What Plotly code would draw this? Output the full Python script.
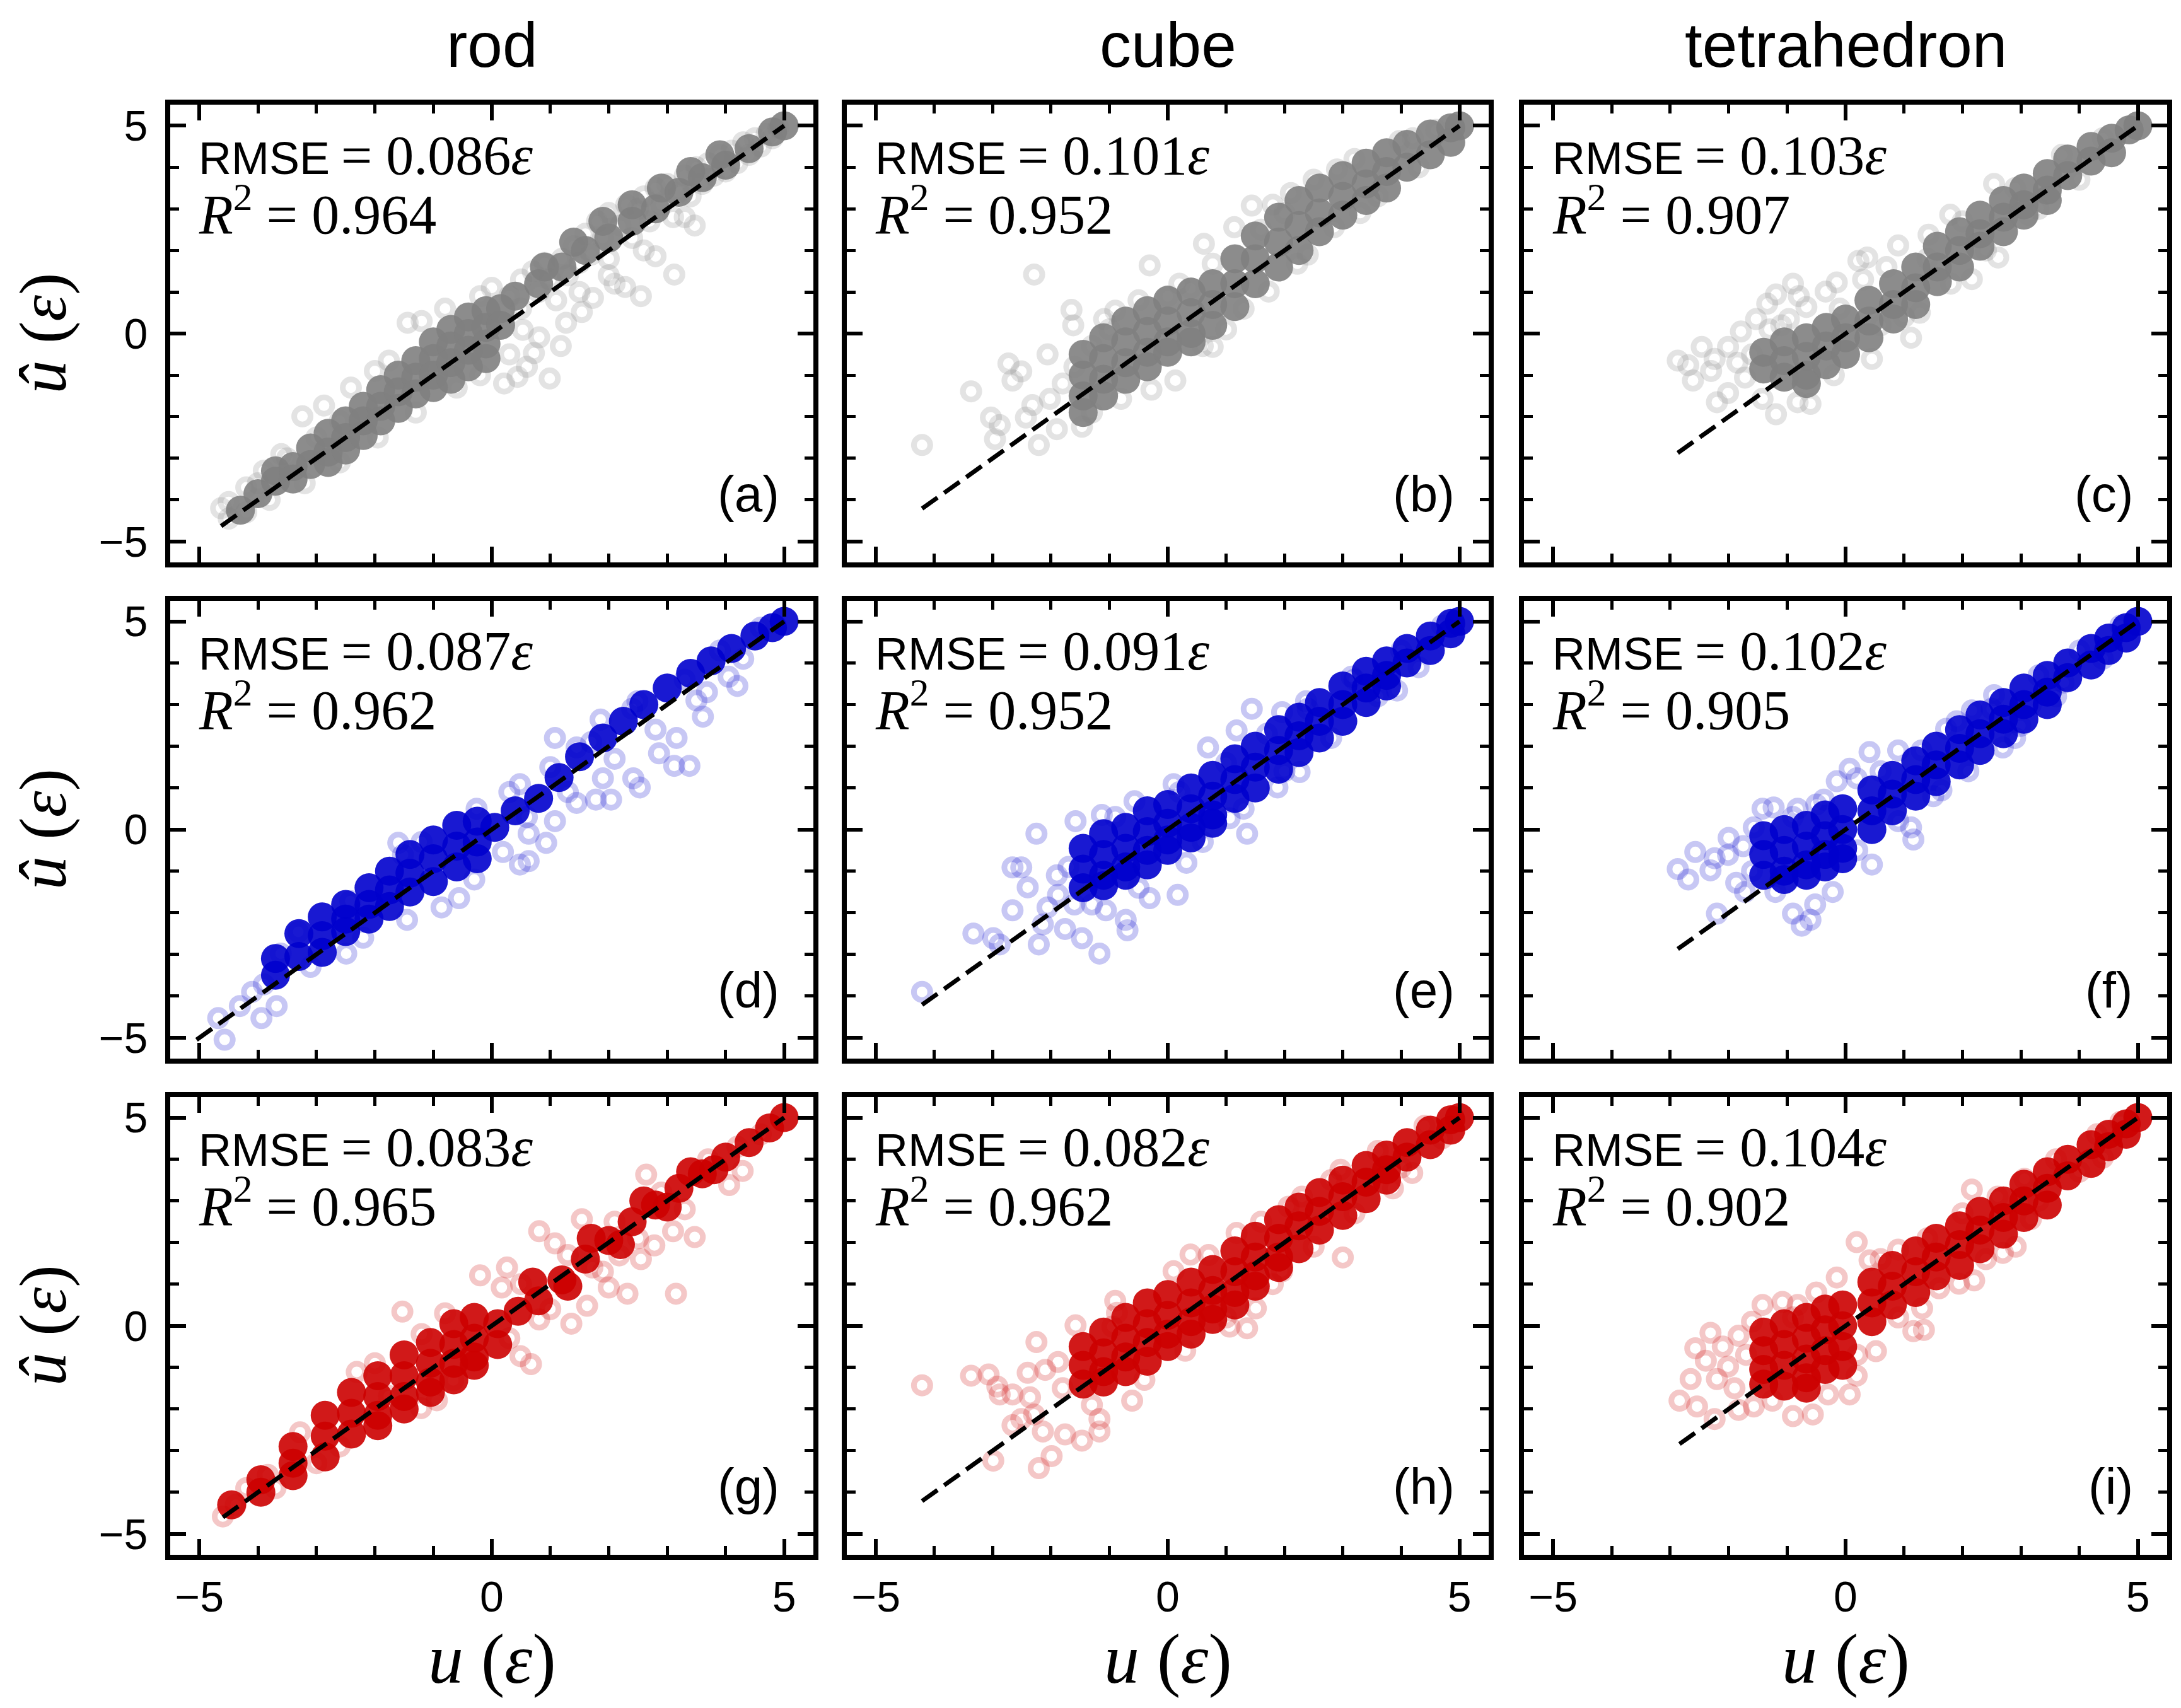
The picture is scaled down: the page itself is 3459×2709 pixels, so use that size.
import plotly.graph_objects as go

# column / row labels and per-panel statistics
shapes = ["rod", "cube", "tetrahedron"]
row_colors = ["#808080", "#0000CD", "#CC0000"]
rmse = ["0.086", "0.101", "0.103", "0.087", "0.091", "0.102", "0.083", "0.082", "0.104"]
r2 = ["0.964", "0.952", "0.907", "0.962", "0.952", "0.905", "0.965", "0.962", "0.902"]
tags = ["(a)", "(b)", "(c)", "(d)", "(e)", "(f)", "(g)", "(h)", "(i)"]

# points: [u, u_hat]; "dense" = solid core of the cloud, "sparse" = single circles
panel_a_dense = [
    [-4.3, -4.25], [-4.0, -3.85], [-3.7, -3.55], [-3.7, -3.3], [-3.4, -3.2], [-3.4, -3.5], [-3.1, -2.75], [-3.1, -3.15],
    [-2.8, -2.4], [-2.8, -2.85], [-2.8, -3.1], [-2.5, -2.1], [-2.5, -2.5], [-2.5, -2.8], [-2.2, -1.75], [-2.2, -2.1],
    [-2.2, -2.45], [-1.9, -1.35], [-1.9, -1.75], [-1.9, -2.1], [-1.6, -1.0], [-1.6, -1.4], [-1.6, -1.8], [-1.3, -0.65],
    [-1.3, -1.05], [-1.3, -1.45], [-1.0, -0.2], [-1.0, -0.6], [-1.0, -1.0], [-1.0, -1.3], [-0.7, 0.1], [-0.7, -0.3],
    [-0.7, -0.7], [-0.7, -1.1], [-0.4, 0.4], [-0.4, 0.0], [-0.4, -0.4], [-0.4, -0.8], [-0.1, 0.55], [-0.1, 0.15],
    [-0.1, -0.25], [-0.1, -0.6], [0.15, 0.6], [0.15, 0.2], [0.4, 0.9], [0.8, 1.2], [1.2, 1.6], [1.6, 2.0], [2.0, 2.3],
    [2.4, 2.7], [2.8, 3.0], [3.2, 3.4], [3.6, 3.75], [4.0, 4.05], [4.4, 4.45], [4.8, 4.85], [5.0, 5.0],
    [0.9, 1.6], [1.4, 2.2], [1.9, 2.7], [2.4, 3.1], [2.9, 3.5], [3.4, 3.9], [3.9, 4.3],
]
panel_a_sparse = [
    [-4.63, -4.2], [-4.5, -4.45], [-4.5, -4.05], [-4.2, -3.7], [-4.2, -4.3], [-3.9, -3.3], [-3.8, -4.0], [-3.6, -2.9],
    [-3.24, -1.99], [-3.2, -3.6], [-2.87, -1.73], [-2.6, -3.1], [-2.41, -1.3], [-2.0, -0.9], [-1.95, -2.5],
    [-1.76, -0.65], [-1.44, 0.26], [-1.3, -1.9], [-1.2, 0.3], [-0.8, 0.6], [-0.6, -1.3], [-0.2, 0.9], [-0.2, -1.0],
    [0.0, 1.1], [0.21, -1.2], [0.3, -0.5], [0.44, -1.04], [0.53, 0.09], [0.6, -0.8], [0.72, -0.47], [0.81, -0.09],
    [0.99, -1.08], [1.18, -0.3], [1.27, 0.26], [1.5, 1.0], [1.54, 0.52], [1.73, 0.86], [2.0, 1.4], [2.1, 1.2],
    [2.28, 1.12], [2.55, 0.9], [2.6, 2.0], [2.8, 1.86], [3.12, 1.42], [3.3, 2.8], [3.47, 2.6],
    [0.3, 0.9], [0.5, 1.3], [0.5, 0.6], [0.7, 1.5], [0.8, 1.0], [0.9, 1.7], [1.0, 1.3], [1.1, 0.8], [1.2, 1.8],
    [1.3, 1.4], [1.4, 2.1], [1.5, 1.7], [1.6, 2.4], [1.7, 1.9], [1.8, 2.7], [1.9, 2.3], [2.0, 2.9], [2.0, 1.8],
    [2.2, 2.6], [2.3, 3.1], [2.4, 2.3], [2.5, 3.0], [2.6, 3.3], [2.7, 2.7], [2.8, 3.5], [2.9, 3.1], [3.0, 3.6],
    [3.1, 2.8], [3.2, 3.4], [3.3, 3.8], [3.4, 3.3], [3.5, 4.0], [3.6, 3.6], [3.7, 4.1], [3.8, 3.8], [3.9, 4.3],
    [4.0, 3.9], [4.1, 4.4], [4.2, 4.1], [4.3, 4.6], [4.4, 4.3], [4.5, 4.7], [4.6, 4.5], [4.7, 4.8], [4.8, 4.7],
    [4.9, 4.95], [-4.0, -3.6], [-3.5, -3.0], [-3.0, -2.5], [-2.6, -2.1],
]

panel_b_dense = [
    [-1.45, -0.5], [-1.45, -1.0], [-1.45, -1.5], [-1.45, -1.9], [-1.1, -0.1], [-1.1, -0.6], [-1.1, -1.1], [-1.1, -1.5],
    [-0.72, 0.3], [-0.72, -0.2], [-0.72, -0.7], [-0.72, -1.1], [-0.35, 0.55], [-0.35, 0.05], [-0.35, -0.45],
    [-0.35, -0.8], [0.0, 0.8], [0.0, 0.3], [0.0, -0.2], [0.0, -0.45], [0.4, 1.0], [0.4, 0.5], [0.4, 0.0], [0.4, -0.2],
    [0.77, 1.2], [0.77, 0.7], [0.77, 0.2], [1.15, 1.8], [1.15, 1.2], [1.15, 0.65], [1.5, 2.35], [1.5, 1.8], [1.5, 1.2],
    [1.9, 2.8], [1.9, 2.2], [1.9, 1.6], [2.25, 3.2], [2.25, 2.6], [2.25, 2.0], [2.6, 3.5], [2.6, 2.9], [2.6, 2.45],
    [3.0, 3.8], [3.0, 3.3], [3.0, 2.85], [3.4, 4.1], [3.4, 3.6], [3.4, 3.2], [3.75, 4.35], [3.75, 3.9], [3.75, 3.5],
    [4.1, 4.55], [4.1, 4.0], [4.5, 4.8], [4.5, 4.3], [4.85, 4.95], [4.85, 4.6], [5.0, 5.0],
]
panel_b_sparse = [
    [-4.21, -2.68], [-3.37, -1.39], [-3.03, -2.02], [-2.96, -2.54], [-2.88, -2.2], [-2.73, -0.72], [-2.66, -1.13],
    [-2.51, -0.91], [-2.43, -2.02], [-2.32, -1.72], [-2.29, 1.42], [-2.21, -2.68], [-2.06, -0.5], [-2.02, -1.57],
    [-1.9, -2.3], [-1.8, -1.2], [-1.65, 0.57], [-1.62, 0.2], [-1.6, -0.8], [-1.47, -2.24], [-1.3, -1.9], [-1.09, 0.35],
    [-0.9, 0.55], [-0.8, -1.57], [-0.5, 0.8], [-0.31, 1.64], [-0.28, -1.35], [0.13, -1.13], [0.2, 1.2], [0.39, 1.09],
    [0.62, 2.16], [0.77, 1.68], [0.77, -0.32], [1.0, 0.1], [1.14, 2.56], [1.3, 0.6], [1.44, 3.08], [1.73, 1.01],
    [1.8, 3.1], [2.11, 3.38], [2.22, 1.68], [2.5, 3.7], [2.85, 2.56], [3.2, 4.2], [3.3, 2.9], [3.97, 4.63], [4.2, 4.7],
    [4.6, 4.9], [-1.3, -0.3], [-1.0, 0.1], [0.0, 0.9], [0.6, -0.3], [1.6, 2.5], [2.0, 2.9], [2.4, 1.9], [2.9, 3.95],
    [3.6, 3.3], [4.3, 4.0],
]

panel_c_dense = [
    [-1.4, -0.45], [-1.4, -0.85], [-1.05, -0.2], [-1.05, -0.65], [-1.05, -1.05], [-0.67, -0.1], [-0.67, -0.55],
    [-0.67, -1.0], [-0.67, -1.2], [-0.33, 0.15], [-0.33, -0.3], [-0.33, -0.75], [0.0, 0.35], [0.0, -0.1], [0.0, -0.5],
    [0.4, 0.8], [0.4, 0.3], [0.4, -0.1], [0.82, 1.2], [0.82, 0.7], [0.82, 0.35], [1.2, 1.6], [1.2, 1.1], [1.2, 0.7],
    [1.57, 2.1], [1.57, 1.6], [1.57, 1.25], [1.95, 2.45], [1.95, 2.0], [1.95, 1.6], [2.3, 2.85], [2.3, 2.4],
    [2.3, 2.1], [2.7, 3.2], [2.7, 2.8], [2.7, 2.45], [3.05, 3.5], [3.05, 3.1], [3.05, 2.85], [3.45, 3.85],
    [3.45, 3.45], [3.45, 3.2], [3.8, 4.2], [3.8, 3.8], [4.2, 4.5], [4.2, 4.15], [4.55, 4.7], [4.55, 4.35],
    [4.85, 4.9], [5.0, 5.0],
]
panel_c_sparse = [
    [-2.87, -0.65], [-2.69, -0.76], [-2.61, -1.13], [-2.46, -0.32], [-2.24, -0.61], [-2.2, -1.65], [-2.01, -0.32],
    [-2.01, -1.43], [-1.79, 0.05], [-1.72, -1.06], [-1.6, -0.5], [-1.53, 0.35], [-1.42, -1.57], [-1.34, 0.72],
    [-1.19, 0.94], [-1.19, -1.94], [-1.1, 0.2], [-0.97, 0.35], [-0.9, 1.2], [-0.82, -1.65], [-0.67, 0.64],
    [-0.6, -1.69], [-0.34, 1.01], [-0.15, 1.23], [-0.1, 0.6], [0.22, 1.75], [0.37, 1.83], [0.45, -0.61], [0.6, 0.2],
    [0.9, 2.12], [1.12, -0.1], [1.27, 0.5], [1.42, 2.38], [1.79, 2.86], [2.16, 1.31], [2.54, 3.6], [2.61, 1.83],
    [3.13, 2.86], [3.51, 3.38], [-2.3, -0.9], [-1.85, -0.7], [-1.3, 0.1], [-0.8, 0.9], [-0.2, -1.0], [0.3, 1.3],
    [0.7, 1.6], [1.0, 0.4], [1.4, 1.8], [1.8, 1.2], [2.0, 2.7], [2.4, 2.0], [2.9, 3.5], [3.3, 3.0], [3.7, 4.3],
    [4.0, 3.7], [4.4, 4.7],
]

panel_d_dense = [
    [-3.7, -3.1], [-3.7, -3.5], [-3.3, -2.5], [-3.3, -3.05], [-2.9, -2.1], [-2.9, -2.55], [-2.9, -2.95], [-2.5, -1.8],
    [-2.5, -2.15], [-2.5, -2.45], [-2.1, -1.4], [-2.1, -1.8], [-2.1, -2.15], [-1.75, -1.0], [-1.75, -1.45],
    [-1.75, -1.85], [-1.4, -0.6], [-1.4, -1.05], [-1.4, -1.5], [-1.0, -0.25], [-1.0, -0.7], [-1.0, -1.25],
    [-0.6, 0.1], [-0.6, -0.4], [-0.6, -0.9], [-0.25, 0.2], [-0.25, -0.3], [-0.25, -0.7], [0.05, 0.05], [0.4, 0.45],
    [0.8, 0.75], [1.15, 1.25], [1.5, 1.75], [1.9, 2.2], [2.25, 2.6], [2.6, 3.0], [3.0, 3.4], [3.4, 3.75],
    [3.75, 4.05], [4.1, 4.35], [4.5, 4.65], [4.8, 4.85], [5.0, 5.0],
]
panel_d_sparse = [
    [-4.68, -4.53], [-4.57, -5.05], [-4.31, -4.24], [-4.1, -3.9], [-3.94, -4.53], [-3.9, -3.72], [-3.68, -4.24],
    [-3.61, -2.98], [-3.31, -2.46], [-3.1, -3.3], [-2.49, -2.98], [-2.42, -1.72], [-2.2, -2.6], [-1.6, -0.32],
    [-1.52, -0.61], [-1.45, -2.17], [-1.2, -0.3], [-0.86, -1.87], [-0.56, -1.65], [-0.26, 0.5], [-0.3, -1.2],
    [0.19, -0.54], [0.48, -0.84], [0.48, 1.09], [0.63, -0.1], [0.63, -0.76], [0.93, -0.32], [1.08, 0.2], [1.08, 2.2],
    [1.45, 0.64], [1.45, 1.97], [1.78, 0.72], [1.86, 2.64], [1.9, 1.23], [2.04, 0.72], [2.42, 1.23], [2.49, 3.08],
    [2.53, 1.01], [2.86, 1.83], [3.12, 1.53], [3.16, 2.2], [3.38, 1.53], [3.61, 2.71], [3.68, 3.3], [4.05, 3.67],
    [4.2, 3.45], [0.3, 0.9], [0.6, 0.3], [1.0, 1.5], [1.3, 0.9], [1.7, 2.1], [2.1, 1.7], [2.4, 2.9], [2.8, 2.4],
    [3.3, 3.6], [3.5, 3.1], [3.9, 4.3], [4.3, 4.1], [4.6, 4.85],
]

panel_e_dense = [
    [-1.45, -0.45], [-1.45, -0.95], [-1.45, -1.4], [-1.1, -0.1], [-1.1, -0.6], [-1.1, -1.1], [-1.1, -1.35],
    [-0.72, 0.05], [-0.72, -0.45], [-0.72, -0.9], [-0.72, -1.1], [-0.35, 0.45], [-0.35, -0.05], [-0.35, -0.5],
    [-0.35, -0.85], [0.0, 0.6], [0.0, 0.15], [0.0, -0.25], [0.0, -0.5], [0.4, 1.0], [0.4, 0.5], [0.4, 0.05],
    [0.4, -0.2], [0.77, 1.3], [0.77, 0.8], [0.77, 0.35], [0.77, 0.15], [1.15, 1.7], [1.15, 1.2], [1.15, 0.75],
    [1.5, 2.0], [1.5, 1.5], [1.5, 1.0], [1.9, 2.4], [1.9, 1.9], [1.9, 1.45], [2.25, 2.7], [2.25, 2.25], [2.25, 1.85],
    [2.6, 3.05], [2.6, 2.6], [2.6, 2.2], [3.0, 3.45], [3.0, 3.0], [3.0, 2.6], [3.4, 3.8], [3.4, 3.4], [3.4, 3.05],
    [3.75, 4.05], [3.75, 3.7], [3.75, 3.45], [4.1, 4.35], [4.1, 4.0], [4.5, 4.65], [4.5, 4.3], [4.85, 4.95],
    [4.85, 4.7], [5.0, 5.0],
]
panel_e_sparse = [
    [-4.21, -3.9], [-3.33, -2.5], [-2.99, -2.61], [-2.88, -2.76], [-2.66, -1.94], [-2.66, -0.91], [-2.51, -0.91],
    [-2.4, -1.39], [-2.25, -0.1], [-2.21, -2.76], [-2.14, -2.28], [-2.06, -1.87], [-1.88, -1.57], [-1.76, -2.39],
    [-1.7, -0.9], [-1.58, 0.2], [-1.47, -2.61], [-1.3, -1.8], [-1.17, -2.98], [-1.13, 0.35], [-1.06, -1.94],
    [-0.72, -2.17], [-0.69, -2.42], [-0.57, 0.68], [-0.31, -1.65], [0.1, 1.09], [0.17, -1.57], [0.32, -0.8],
    [0.69, 1.97], [1.06, 0.27], [1.18, 2.38], [1.36, -0.1], [1.44, 2.9], [1.88, 1.01], [1.96, 2.82], [2.26, 1.38],
    [2.37, 3.08], [3.15, 3.67], [3.93, 3.34], [-1.9, -1.1], [-1.6, -1.8], [-0.9, 0.3], [-0.5, -1.4], [0.2, 0.9],
    [0.6, -0.3], [1.0, 1.6], [1.3, 0.5], [1.7, 2.3], [2.0, 1.4], [2.4, 2.9], [2.8, 2.2], [3.2, 3.6], [3.6, 3.2],
    [4.0, 4.3], [4.3, 3.9], [4.7, 4.9],
]

panel_f_dense = [
    [-1.4, -0.15], [-1.4, -0.6], [-1.4, -1.1], [-1.05, 0.0], [-1.05, -0.5], [-1.05, -1.0], [-1.05, -1.2],
    [-0.67, 0.1], [-0.67, -0.4], [-0.67, -0.85], [-0.67, -1.1], [-0.35, 0.35], [-0.35, -0.15], [-0.35, -0.6],
    [-0.35, -0.9], [-0.05, 0.5], [-0.05, 0.0], [-0.05, -0.45], [-0.05, -0.7], [0.45, 0.95], [0.45, 0.45], [0.45, 0.0],
    [0.8, 1.3], [0.8, 0.85], [0.8, 0.45], [1.2, 1.65], [1.2, 1.2], [1.2, 0.8], [1.55, 2.0], [1.55, 1.55], [1.55, 1.15],
    [1.95, 2.4], [1.95, 1.95], [1.95, 1.55], [2.3, 2.75], [2.3, 2.3], [2.3, 1.9], [2.7, 3.05], [2.7, 2.65], [2.7, 2.3],
    [3.05, 3.4], [3.05, 3.0], [3.05, 2.65], [3.45, 3.7], [3.45, 3.3], [3.45, 3.0], [3.8, 4.0], [3.8, 3.65],
    [4.2, 4.35], [4.2, 3.95], [4.5, 4.6], [4.5, 4.3], [4.8, 4.85], [4.8, 4.6], [5.0, 5.0],
]
panel_f_sparse = [
    [-2.87, -0.95], [-2.69, -1.2], [-2.57, -0.54], [-2.31, -0.98], [-2.24, -0.69], [-2.2, -2.02], [-2.01, -0.61],
    [-1.87, -1.28], [-1.72, -1.5], [-1.57, 0.05], [-1.42, 0.5], [-1.23, 0.53], [-0.9, -2.02], [-0.82, 0.5],
    [-0.75, -2.31], [-0.6, -2.17], [-0.52, -1.8], [-0.37, 0.72], [-0.22, -1.5], [-0.15, 1.16], [0.07, 1.46],
    [0.19, 1.23], [0.41, 1.86], [0.45, -0.84], [0.9, 1.9], [1.12, 0.05], [1.16, -0.24], [1.64, 0.94], [1.72, 2.42],
    [2.16, 2.86], [2.54, 3.23], [2.69, 1.97], [2.99, 2.49], [3.17, 3.0], [3.73, 3.53], [-2.0, -0.2], [-1.75, -0.4],
    [-1.6, -1.0], [-1.2, -1.5], [-0.9, 0.3], [-0.5, 0.6], [0.2, -0.5], [0.6, 1.4], [0.9, 0.2], [1.3, 1.9], [1.5, 0.8],
    [1.9, 2.6], [2.1, 1.4], [2.5, 2.9], [2.9, 2.2], [3.3, 3.7], [3.6, 3.2], [4.0, 4.3], [4.4, 4.1], [4.7, 4.9],
]

panel_g_dense = [
    [-4.45, -4.3], [-3.95, -3.7], [-3.95, -4.0], [-3.4, -2.9], [-3.4, -3.3], [-3.4, -3.6], [-2.85, -2.15],
    [-2.85, -2.65], [-2.85, -3.15], [-2.4, -1.6], [-2.4, -2.1], [-2.4, -2.6], [-1.95, -1.2], [-1.95, -1.7],
    [-1.95, -2.15], [-1.95, -2.4], [-1.5, -0.7], [-1.5, -1.2], [-1.5, -1.7], [-1.5, -2.0], [-1.05, -0.4],
    [-1.05, -0.9], [-1.05, -1.35], [-1.05, -1.6], [-0.65, 0.05], [-0.65, -0.45], [-0.65, -0.9], [-0.65, -1.3],
    [-0.3, 0.2], [-0.3, -0.3], [-0.3, -0.75], [-0.3, -0.95], [0.1, 0.05], [0.1, -0.45], [0.45, 0.35], [0.8, 0.6],
    [1.2, 1.1], [1.6, 1.6], [2.0, 2.05], [2.4, 2.5], [2.8, 2.9], [3.2, 3.3], [3.6, 3.65], [4.0, 4.05], [4.4, 4.4],
    [4.75, 4.75], [5.0, 5.0], [0.7, 1.05], [1.3, 0.95], [1.7, 2.1], [2.2, 1.95], [2.6, 3.0], [3.0, 2.85],
    [3.4, 3.7], [3.8, 3.75],
]
panel_g_sparse = [
    [-4.6, -4.58], [-4.38, -4.3], [-4.2, -3.9], [-3.83, -3.58], [-3.7, -3.9], [-3.28, -2.56], [-3.0, -3.3],
    [-2.6, -2.9], [-2.31, -1.11], [-1.76, -1.69], [-1.53, 0.34], [-1.21, -1.98], [-0.94, -1.79], [-0.66, -1.31],
    [-0.2, 1.21], [0.17, 0.92], [0.26, 1.4], [0.49, -0.73], [0.67, -0.92], [0.81, 2.27], [0.81, 0.15], [1.08, 1.98],
    [1.36, 0.05], [1.54, 2.56], [1.63, 0.48], [1.72, 1.4], [2.0, 0.92], [2.18, 1.69], [2.32, 0.77], [2.55, 1.6],
    [2.64, 3.63], [2.78, 1.93], [3.1, 2.27], [3.15, 0.77], [3.47, 2.13], [4.06, 3.38], [4.29, 3.72], [-2.0, -0.9],
    [-1.2, -0.2], [-0.8, 0.3], [0.3, -0.3], [0.5, 1.0], [1.0, 0.4], [1.3, 1.7], [1.9, 1.3], [2.1, 2.5], [2.5, 2.1],
    [2.9, 3.2], [3.3, 2.8], [3.7, 4.0], [4.2, 4.3], [4.6, 4.6],
]

panel_h_dense = [
    [-1.45, -0.5], [-1.45, -0.95], [-1.45, -1.4], [-1.1, -0.15], [-1.1, -0.65], [-1.1, -1.1], [-1.1, -1.35],
    [-0.72, 0.2], [-0.72, -0.3], [-0.72, -0.75], [-0.72, -1.1], [-0.35, 0.55], [-0.35, 0.05], [-0.35, -0.4],
    [-0.35, -0.85], [0.0, 0.75], [0.0, 0.25], [0.0, -0.2], [0.0, -0.5], [0.4, 1.05], [0.4, 0.55], [0.4, 0.1],
    [0.4, -0.2], [0.77, 1.35], [0.77, 0.85], [0.77, 0.4], [0.77, 0.15], [1.15, 1.8], [1.15, 1.3], [1.15, 0.8],
    [1.15, 0.5], [1.5, 2.15], [1.5, 1.65], [1.5, 1.2], [1.5, 0.95], [1.9, 2.55], [1.9, 2.1], [1.9, 1.65], [1.9, 1.4],
    [2.25, 2.85], [2.25, 2.4], [2.25, 1.85], [2.6, 3.2], [2.6, 2.75], [2.6, 2.3], [3.0, 3.5], [3.0, 3.1], [3.0, 2.65],
    [3.4, 3.85], [3.4, 3.45], [3.4, 3.05], [3.75, 4.1], [3.75, 3.75], [3.75, 3.5], [4.1, 4.4], [4.1, 4.05],
    [4.5, 4.7], [4.5, 4.35], [4.85, 4.95], [4.85, 4.7], [5.0, 5.0],
]
panel_h_sparse = [
    [-4.21, -1.43], [-3.37, -1.2], [-3.07, -1.17], [-2.99, -3.24], [-2.92, -1.46], [-2.88, -1.65], [-2.66, -1.65],
    [-2.66, -2.39], [-2.51, -2.24], [-2.4, -1.13], [-2.36, -1.72], [-2.29, -2.13], [-2.25, -0.39], [-2.21, -3.42],
    [-2.14, -2.54], [-2.1, -1.06], [-1.99, -3.13], [-1.88, -0.87], [-1.76, -2.61], [-1.58, 0.01], [-1.47, -2.76],
    [-1.17, -2.54], [-1.17, -2.24], [-0.95, -0.02], [-0.87, 0.31], [-0.61, -1.8], [0.1, 1.31], [0.39, 1.71],
    [1.06, -0.02], [1.18, 2.23], [1.36, -0.06], [1.51, 0.42], [1.96, 1.31], [2.07, 2.86], [2.96, 3.75], [3.0, 1.64],
    [3.86, 3.3], [4.19, 3.67], [-1.8, -1.5], [-1.3, -1.9], [-0.9, 0.6], [-0.4, -1.3], [0.3, -0.6], [0.7, 1.7],
    [1.0, 0.2], [1.6, 2.5], [1.8, 1.0], [2.3, 3.1], [2.5, 1.9], [2.8, 3.5], [3.2, 2.7], [3.6, 4.2], [4.0, 3.8],
    [4.4, 4.8], [4.7, 4.5],
]

panel_i_dense = [
    [-1.4, -0.15], [-1.4, -0.6], [-1.4, -1.05], [-1.4, -1.4], [-1.05, 0.05], [-1.05, -0.45], [-1.05, -0.95],
    [-1.05, -1.45], [-0.67, 0.2], [-0.67, -0.3], [-0.67, -0.8], [-0.67, -1.25], [-0.67, -1.5], [-0.35, 0.4],
    [-0.35, -0.1], [-0.35, -0.6], [-0.35, -1.05], [-0.05, 0.5], [-0.05, 0.0], [-0.05, -0.5], [-0.05, -0.95],
    [0.45, 1.05], [0.45, 0.55], [0.45, 0.1], [0.8, 1.45], [0.8, 0.95], [0.8, 0.5], [1.2, 1.8], [1.2, 1.3], [1.2, 0.8],
    [1.55, 2.1], [1.55, 1.65], [1.55, 1.2], [1.95, 2.4], [1.95, 1.95], [1.95, 1.45], [2.3, 2.75], [2.3, 2.3],
    [2.3, 1.85], [2.7, 3.0], [2.7, 2.6], [2.7, 2.2], [3.05, 3.4], [3.05, 3.0], [3.05, 2.6], [3.45, 3.7], [3.45, 3.3],
    [3.45, 2.9], [3.8, 4.0], [3.8, 3.6], [4.2, 4.35], [4.2, 3.9], [4.5, 4.6], [4.5, 4.3], [4.8, 4.85], [4.8, 4.6],
    [5.0, 5.0],
]
panel_i_sparse = [
    [-2.84, -1.8], [-2.65, -1.28], [-2.57, -0.54], [-2.54, -1.94], [-2.39, -0.84], [-2.31, -0.17], [-2.24, -2.24],
    [-2.2, -1.28], [-2.01, -0.98], [-1.83, -0.24], [-1.83, -2.02], [-1.7, -0.7], [-1.57, -1.94], [-1.42, 0.5],
    [-1.08, 0.57], [-0.9, -2.17], [-0.82, 0.5], [-0.56, -2.13], [-0.3, -1.65], [-0.15, 1.16], [0.07, -1.65],
    [0.19, 2.01], [0.19, -1.2], [0.41, 1.57], [0.52, -0.61], [0.9, 1.83], [1.16, -0.13], [1.31, 0.42], [1.34, -0.1],
    [1.94, 1.01], [2.16, 3.27], [2.2, 1.09], [2.69, 1.75], [2.91, 1.9], [3.06, 3.53], [3.17, 2.56], [4.4, 4.04],
    [-2.1, -0.5], [-1.9, -1.5], [-1.6, 0.1], [-1.25, -1.8], [-0.9, 0.2], [-0.5, 0.8], [0.2, -0.7], [0.6, 1.6],
    [0.9, 0.2], [1.4, 2.1], [1.6, 0.9], [2.0, 2.7], [2.4, 1.6], [2.6, 3.1], [3.3, 3.0], [3.6, 4.0], [4.0, 3.7],
    [4.3, 4.6], [4.7, 4.9],
]

dense = [panel_a_dense, panel_b_dense, panel_c_dense, panel_d_dense, panel_e_dense,
         panel_f_dense, panel_g_dense, panel_h_dense, panel_i_dense]
sparse = [panel_a_sparse, panel_b_sparse, panel_c_sparse, panel_d_sparse, panel_e_sparse,
          panel_f_sparse, panel_g_sparse, panel_h_sparse, panel_i_sparse]

# --- geometry (pixels of the 3459 x 2709 page) ---
W, H = 3459, 2709
col_px = [(262, 1282), (1335, 2353), (2409, 3429)]
row_px = [(154, 882), (943, 1672), (1733, 2462)]
SANS = "Liberation Sans, Arial, sans-serif"
SERIF = "Liberation Serif, Times New Roman, serif"

fig = go.Figure()
annotations = []
layout_axes = {}

for k in range(9):
    r, c = divmod(k, 3)
    sfx = "" if k == 0 else str(k + 1)
    color = row_colors[r]
    pts_s = sparse[k]
    pts_d = dense[k]

    fig.add_trace(go.Scatter(
        x=[p[0] for p in pts_s], y=[p[1] for p in pts_s], mode="markers",
        marker=dict(symbol="circle-open", size=26, color=color, opacity=0.22,
                    line=dict(width=9, color=color)),
        hoverinfo="skip", showlegend=False, xaxis="x" + sfx, yaxis="y" + sfx))
    fig.add_trace(go.Scatter(
        x=[p[0] for p in pts_d], y=[p[1] for p in pts_d], mode="markers",
        marker=dict(symbol="circle", size=46, color=color, opacity=0.9, line=dict(width=0)),
        hoverinfo="skip", showlegend=False, xaxis="x" + sfx, yaxis="y" + sfx))

    # y = x reference line spanning the data
    vals = [v for p in pts_s + pts_d for v in p]
    lo, hi = min(vals), max(vals)
    fig.add_trace(go.Scatter(
        x=[lo, hi], y=[lo, hi], mode="lines",
        line=dict(color="black", width=7, dash="30px,13px"),
        hoverinfo="skip", showlegend=False, xaxis="x" + sfx, yaxis="y" + sfx))

    common = dict(
        range=[-5.5, 5.5], showline=True, linewidth=8, linecolor="black", mirror="ticks",
        ticks="inside", ticklen=25, tickwidth=6, tickcolor="black", tick0=0, dtick=5,
        showgrid=False, zeroline=False, fixedrange=True,
        minor=dict(ticks="inside", dtick=1, ticklen=14, tickwidth=4.5, tickcolor="black", showgrid=False),
        tickfont=dict(family=SANS, size=68, color="black"),
    )
    x0, x1 = col_px[c]
    y0, y1 = row_px[r]
    layout_axes["xaxis" + sfx] = dict(common, domain=[x0 / W, x1 / W], anchor="y" + sfx,
                                      showticklabels=(r == 2), ticklabelstandoff=0)
    layout_axes["yaxis" + sfx] = dict(common, domain=[1 - y1 / H, 1 - y0 / H], anchor="x" + sfx,
                                      showticklabels=(c == 0), ticklabelstandoff=14)

    ph = y1 - y0
    line1 = (f"RMSE<span style=\"font-family:Liberation Serif;font-size:88px\">\u2009= "
             f"{rmse[k]}<i>ε</i></span>")
    line2 = f"<i>R</i><sup>2</sup> = {r2[k]}"
    annotations.append(dict(text=line1, xref=f"x{sfx} domain", yref=f"y{sfx} domain",
                            x=0.042, y=1 - 80 / ph, xanchor="left", yanchor="middle", align="left",
                            showarrow=False, font=dict(family=SANS, size=72, color="black")))
    annotations.append(dict(text=line2, xref=f"x{sfx} domain", yref=f"y{sfx} domain",
                            x=0.042, y=1 - 168 / ph, xanchor="left", yanchor="middle", align="left",
                            showarrow=False, font=dict(family=SERIF, size=88, color="black")))
    annotations.append(dict(text=tags[k], xref=f"x{sfx} domain", yref=f"y{sfx} domain",
                            x=1 - 52 / (x1 - x0), y=62 / ph, xanchor="right", yanchor="bottom",
                            showarrow=False, font=dict(family=SANS, size=80, color="black")))

for c in range(3):
    x0, x1 = col_px[c]
    annotations.append(dict(text=shapes[c], xref="paper", yref="paper", x=(x0 + x1) / 2 / W,
                            y=1 - 58 / H, xanchor="center", yanchor="middle", showarrow=False,
                            font=dict(family=SANS, size=100, color="black")))
    annotations.append(dict(text="<i>u</i> (<i>ε</i>)", xref="paper", yref="paper",
                            x=(x0 + x1) / 2 / W, y=1 - 2628 / H, xanchor="center", yanchor="middle",
                            showarrow=False, font=dict(family=SERIF, size=112, color="black")))
for r in range(3):
    y0, y1 = row_px[r]
    annotations.append(dict(text="<i>û</i> (<i>ε</i>)", xref="paper", yref="paper",
                            x=0.0, y=1 - (y0 + y1) / 2 / H, xanchor="left", yanchor="middle",
                            textangle=-90, showarrow=False, font=dict(family=SERIF, size=106, color="black")))

fig.update_layout(
    width=W, height=H, margin=dict(l=0, r=0, t=0, b=0),
    paper_bgcolor="white", plot_bgcolor="white", showlegend=False,
    annotations=annotations, **layout_axes,
)

fig.write_html("out.html")
